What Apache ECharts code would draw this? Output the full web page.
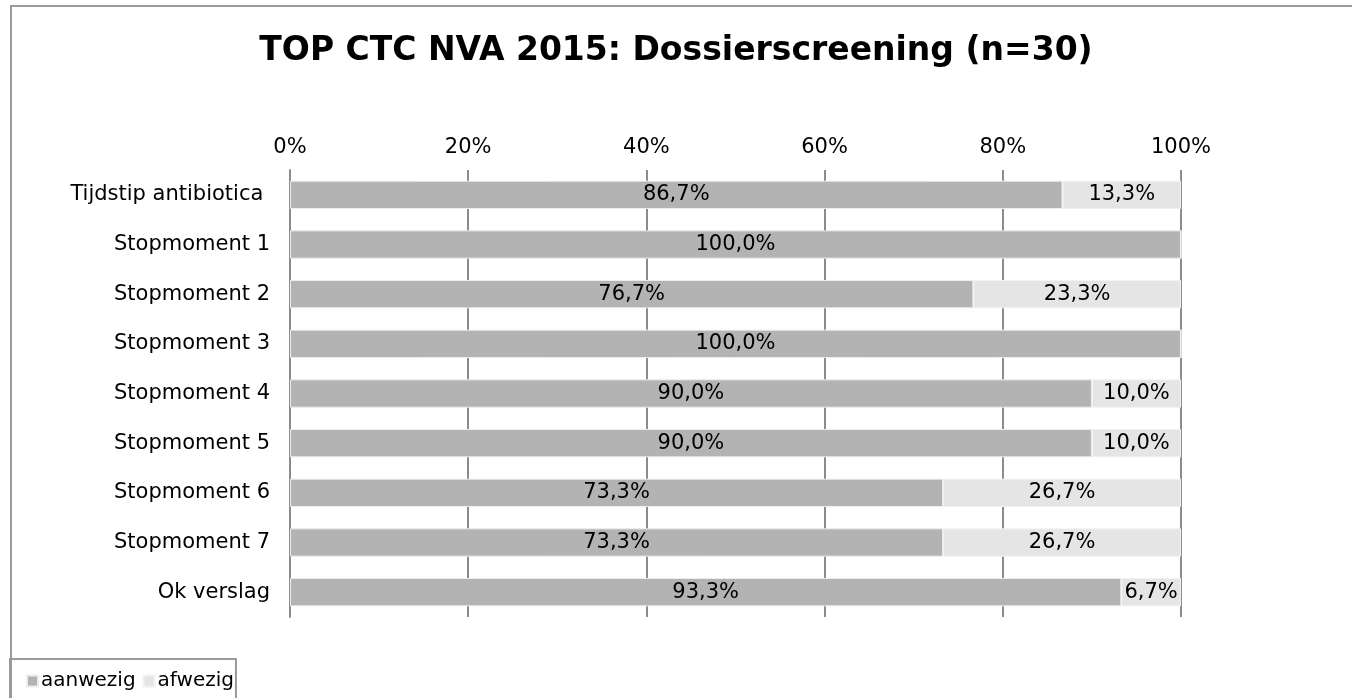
<!DOCTYPE html>
<html lang="nl">
<head>
<meta charset="utf-8">
<title>TOP CTC NVA 2015</title>
<script src="https://cdn.jsdelivr.net/npm/echarts@6/dist/echarts.min.js"></script>
<style type="text/css">
html, body { margin: 0; padding: 0; background: #fff; overflow: hidden; }
#frame {
  position: absolute; left: 10px; top: 5px; width: 1400px; height: 760px;
  border: 2px solid #9a9a9a; box-sizing: border-box;
}
#chart { position: absolute; left: 0; top: 0; width: 1352px; height: 698px; }
</style>
</head>
<body>
<div id="frame"></div>
<div id="chart"></div>
<script type="text/javascript">
// categorieen van boven naar beneden
var categories = ['Tijdstip antibiotica ', 'Stopmoment 1', 'Stopmoment 2', 'Stopmoment 3',
  'Stopmoment 4', 'Stopmoment 5', 'Stopmoment 6', 'Stopmoment 7', 'Ok verslag'];
var aanwezig = [86.7, 100, 76.7, 100, 90, 90, 73.3, 73.3, 93.3];
var afwezig = [13.3, 0, 23.3, 0, 10, 10, 26.7, 26.7, 6.7];
var seriesNames = ['aanwezig', 'afwezig'];

var font = 'DejaVu Sans, Verdana, sans-serif';
var pct = function (p) {
  return p.value ? p.value.toFixed(1).replace('.', ',') + '%' : '';
};

var myChart = echarts.init(document.getElementById('chart'));
var option = {
  animation: false,
  title: {
    text: 'TOP CTC NVA 2015: Dossierscreening (n=30)',
    left: 'center',
    top: 30,
    textStyle: { fontFamily: font, fontSize: 33, fontWeight: 'bold', color: '#000' }
  },
  legend: {
    data: seriesNames,
    left: 10,
    bottom: -2,
    padding: [12, 2, 9, 16],
    itemWidth: 11,
    itemHeight: 11,
    itemGap: 7,
    borderColor: '#9a9a9a',
    borderWidth: 2,
    textStyle: { fontFamily: font, fontSize: 20, color: '#000', padding: [0, 0, 0, -2] },
    icon: 'rect'
  },
  grid: { left: 290, right: 171, top: 170, bottom: 81 },
  xAxis: {
    type: 'value',
    position: 'top',
    min: 0,
    max: 100,
    interval: 20,
    axisLine: { show: false },
    axisTick: { show: false },
    axisLabel: { formatter: '{value}%', fontFamily: font, fontSize: 21, color: '#000', margin: 12 },
    splitLine: { show: true, lineStyle: { color: '#8c8c8c', width: 2 } }
  },
  yAxis: {
    type: 'category',
    data: categories,
    inverse: true,
    axisLine: { show: true, lineStyle: { color: '#8c8c8c', width: 2 } },
    axisTick: { show: false },
    axisLabel: { fontFamily: font, fontSize: 21, color: '#000', margin: 20 }
  },
  series: [
    {
      name: seriesNames[0],
      type: 'bar',
      stack: 'totaal',
      barCategoryGap: '43%',
      data: aanwezig,
      itemStyle: { color: '#b3b3b3', borderColor: '#ececec', borderWidth: 1 },
      label: { show: true, position: 'inside', formatter: pct, fontFamily: font, fontSize: 21, color: '#000' }
    },
    {
      name: seriesNames[1],
      type: 'bar',
      stack: 'totaal',
      data: afwezig,
      itemStyle: { color: '#e5e5e5', borderColor: '#f2f2f2', borderWidth: 1 },
      label: { show: true, position: 'inside', formatter: pct, fontFamily: font, fontSize: 21, color: '#000' }
    }
  ]
};
myChart.setOption(option);
</script>
</body>
</html>
